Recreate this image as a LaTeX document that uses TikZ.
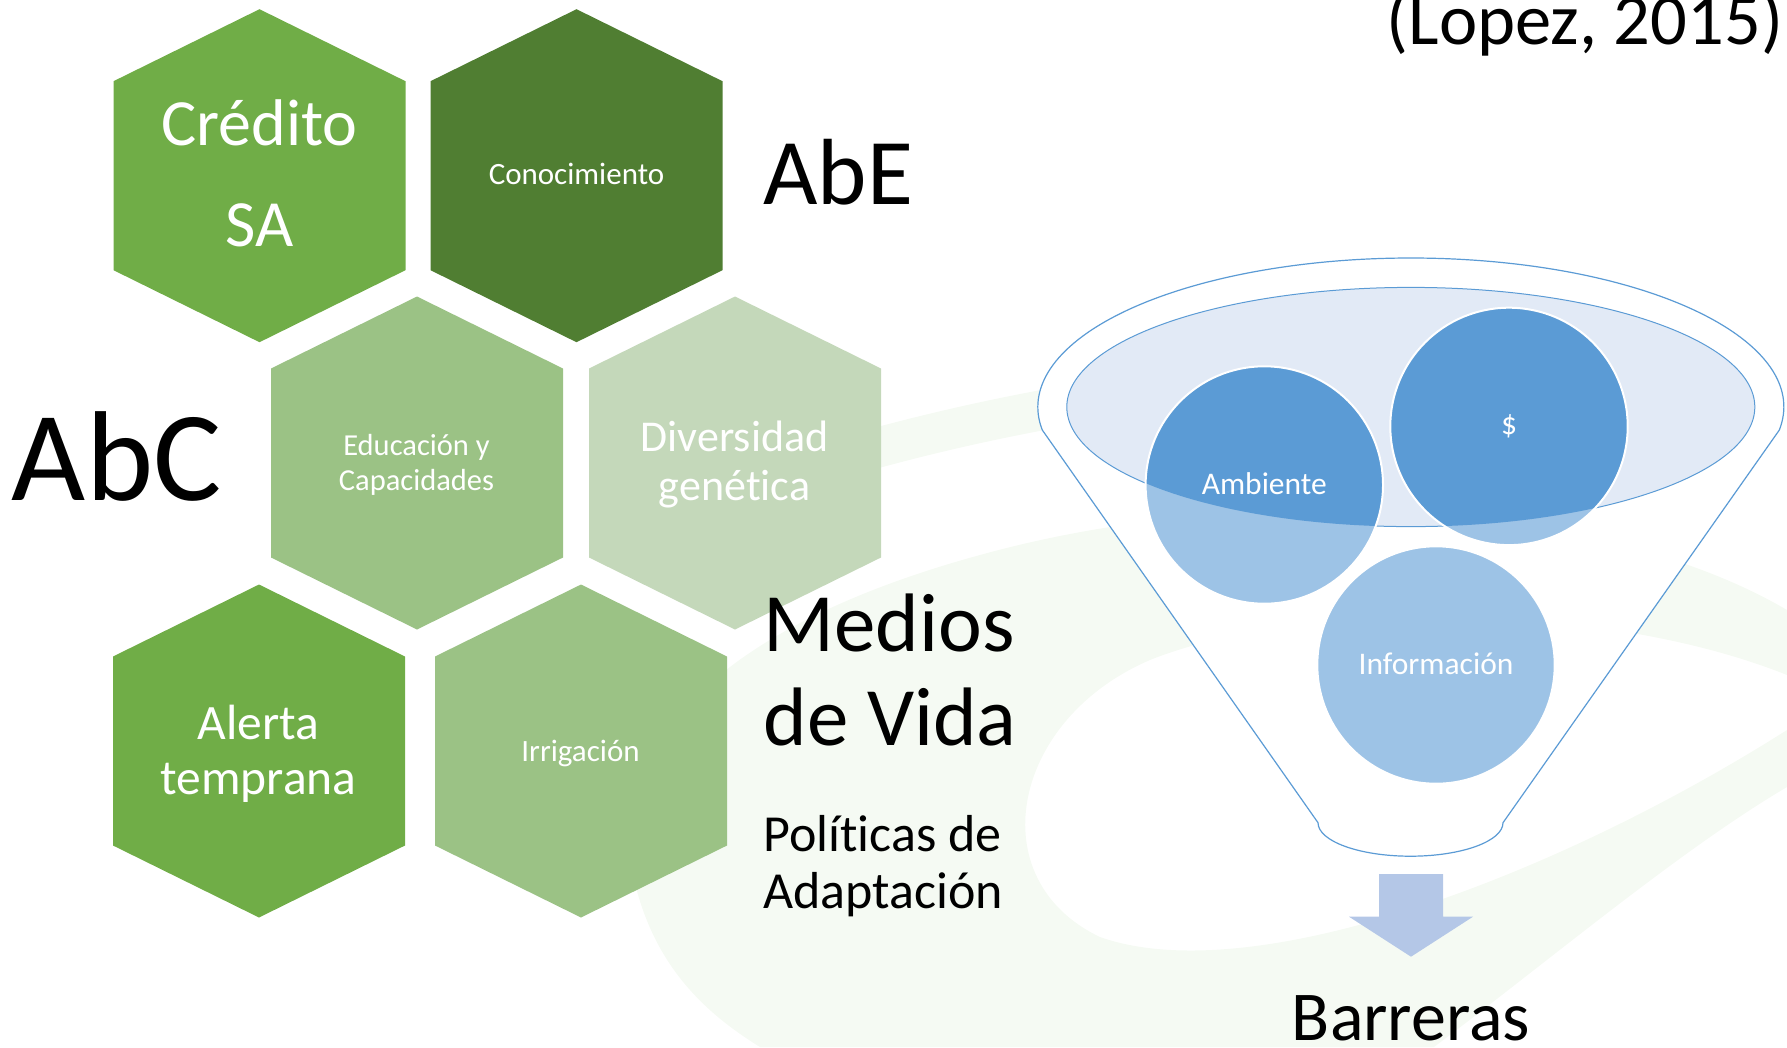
\documentclass[tikz,border=0pt]{standalone}
\usepackage{fontspec}
\setmainfont{Carlito}[Ligatures = NoCommon]

\definecolor{leafgreen}{HTML}{70AD47}
\definecolor{darkleaf}{HTML}{507E32}
\definecolor{softleaf}{HTML}{9BC285}
\definecolor{paleleaf}{HTML}{C4D8BA}
\definecolor{funnelblue}{HTML}{5B9BD5}
\definecolor{ballblue}{HTML}{9DC3E6}
\definecolor{rimblue}{HTML}{E2EAF6}
\definecolor{arrowblue}{HTML}{B4C7E7}
\definecolor{watermark}{HTML}{F5FAF3}

\newcommand{\hexcell}[2]{%
  \fill[#2] (#1) +(0,166.5) -- +(146,94.5) -- +(146,-94.5) -- +(0,-166.5)
    -- +(-146,-94.5) -- +(-146,94.5) -- cycle;}

\begin{document}
\begin{tikzpicture}[x = 1pt, y = 1pt,
    every node/.style = {inner sep = 0pt, outer sep = 0pt},
    hextext/.style = {anchor = base, align = center, text = white},
    bigword/.style = {anchor = base west, align = left, text = black},
    balltext/.style = {anchor = base, text = white, font = \fontsize{31.5}{38}\selectfont},
    ball/.style = {draw = white, line width = 2pt}]
  \useasboundingbox (0,0) rectangle (1787,-1047);

  % faint logo behind
  \fill[watermark, even odd rule]
    (1787,-610) .. controls (1600,-500) and (1250,-480) .. (980,-555)
      .. controls (760,-615) and (610,-720) .. (632,-870)
      .. controls (650,-960) and (700,-1010) .. (760,-1047)
      -- (1434,-1047) .. controls (1550,-960) and (1680,-850) .. (1787,-787) -- cycle
    (1787,-675) .. controls (1600,-600) and (1300,-600) .. (1150,-660)
      .. controls (1010,-720) and (980,-880) .. (1100,-937)
      .. controls (1250,-990) and (1550,-880) .. (1787,-730) -- cycle;
  \draw[watermark, line width = 40pt] (770,-480) .. controls (950,-420) and (1150,-385) .. (1300,-380);

  % hexagons
  \coordinate (h1) at (259.5,-175.7);
  \coordinate (h2) at (576.5,-175.7);
  \coordinate (h3) at (417,-463);
  \coordinate (h4) at (735,-463);
  \coordinate (h5) at (259,-751);
  \coordinate (h6) at (581,-751);
  \hexcell{h1}{leafgreen}
  \hexcell{h2}{darkleaf}
  \hexcell{h3}{softleaf}
  \hexcell{h4}{paleleaf}
  \hexcell{h5}{leafgreen}
  \hexcell{h6}{softleaf}

  % base of a two-line node = its last line
  \node[hextext, font = \fontsize{66}{101}\selectfont] (credito) at (259.5,-246) {Crédito\\SA};
  \node[hextext, font = \fontsize{31}{37}\selectfont] (conocimiento) at (576.5,-184) {Conocimiento};
  \node[hextext, font = \fontsize{30.5}{35}\selectfont] (educacion) at (416.5,-490) {Educación y\\Capacidades};
  \node[hextext, font = \fontsize{44}{48.5}\selectfont] (diversidad) at (734.5,-500) {Diversidad\\genética};
  \node[hextext, font = \fontsize{49.5}{55}\selectfont] (alerta) at (258.5,-794) {Alerta\\temprana};
  \node[hextext, font = \fontsize{31}{37}\selectfont] (irrigacion) at (580.5,-761) {Irrigación};

  % side words
  \node[bigword, font = \fontsize{94}{110}\selectfont] (abe) at (763.5,-204) {AbE};
  \node[bigword, font = \fontsize{128}{150}\selectfont] (abc) at (12,-500) {AbC};
  \node[bigword, font = \fontsize{83}{93.5}\selectfont] (medios) at (763.5,-745) {Medios\\de Vida};
  \node[bigword, font = \fontsize{52}{57}\selectfont] (politicas) at (763.5,-908) {Políticas de\\Adaptación};
  \node[anchor = base east, font = \fontsize{72.5}{80}\selectfont] (lopez) at (1783,-44) {(Lopez, 2015)};

  % funnel
  \coordinate (rim) at (1410.8,-407);
  \filldraw[fill = white, draw = funnelblue, line width = 1.2pt]
    (1779.3,-430.05) arc[start angle = -8.9, end angle = 188.9, x radius = 373pt, y radius = 149pt]
    -- (1318,-822.7) arc[start angle = 180, end angle = 360, x radius = 92.5pt, y radius = 33.5pt]
    -- cycle;
  \filldraw[fill = rimblue, draw = funnelblue, line width = 1pt] (rim) ellipse[x radius = 344pt, y radius = 119.6pt];

  \coordinate (amb) at (1264.3,-485);
  \coordinate (din) at (1509,-426.4);
  \coordinate (inf) at (1436,-665);
  \foreach \c in {amb, din, inf}
    \fill[ballblue] (\c) circle[radius = 118.7pt];
  \begin{scope}
    \clip (rim) ellipse[x radius = 344pt, y radius = 119.6pt];
    \foreach \c in {amb, din, inf}
      \fill[funnelblue] (\c) circle[radius = 118.7pt];
  \end{scope}
  \foreach \c in {amb, din, inf}
    \draw[ball] (\c) circle[radius = 118.7pt];

  \node[balltext] (ambiente) at (1264.3,-494.6) {Ambiente};
  \node[balltext, anchor = center] (dinero) at (din) {\$};
  \node[balltext] (informacion) at (1436,-674.7) {Información};

  % arrow down to barreras
  \coordinate (arrtop) at (1411,-874);
  \fill[arrowblue] (arrtop) ++(-32,0) -- ++(64,0) -- ++(0,-42.7) -- ++(30,0)
    -- (1411,-956.7) -- (1349,-916.7) -- ++(30,0) -- cycle;
  \node[anchor = base, font = \fontsize{70}{84}\selectfont] (barreras) at (1411,-1040) {Barreras};
\end{tikzpicture}
\end{document}
